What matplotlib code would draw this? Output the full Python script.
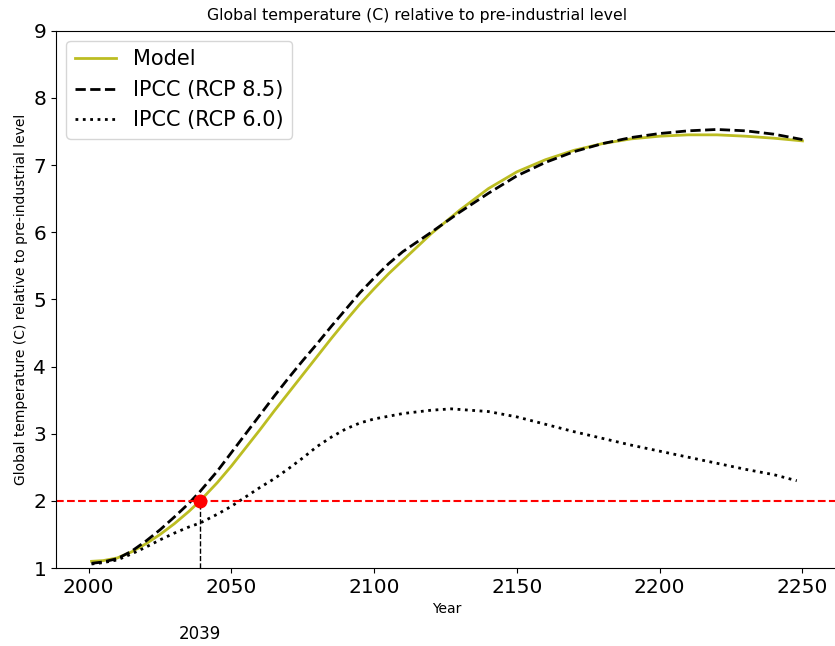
import numpy as np
import matplotlib
matplotlib.use("Agg")
import matplotlib.pyplot as plt
import matplotlib.transforms as mtransforms

# temperature series (C above pre-industrial)
years = [2001, 2005, 2010, 2015, 2020, 2025, 2030, 2035, 2039, 2045, 2050,
         2055, 2060, 2065, 2070, 2075, 2080, 2085, 2090, 2095, 2100,
         2105, 2110, 2120, 2130, 2140, 2150, 2160, 2170, 2180, 2190, 2200,
         2210, 2220, 2230, 2240, 2250]
model = [1.10, 1.11, 1.15, 1.24, 1.36, 1.50, 1.66, 1.84, 2.00, 2.27, 2.52,
         2.79, 3.06, 3.34, 3.61, 3.88, 4.15, 4.42, 4.68, 4.93, 5.16,
         5.38, 5.58, 5.98, 6.33, 6.65, 6.90, 7.08, 7.22, 7.32, 7.39, 7.43,
         7.45, 7.45, 7.43, 7.40, 7.36]
rcp85 = [1.07, 1.09, 1.14, 1.25, 1.40, 1.57, 1.76, 1.96, 2.14, 2.44, 2.72,
         3.00, 3.28, 3.56, 3.83, 4.09, 4.34, 4.60, 4.85, 5.10, 5.32,
         5.53, 5.71, 6.00, 6.30, 6.58, 6.84, 7.04, 7.20, 7.32, 7.41, 7.47,
         7.51, 7.53, 7.51, 7.46, 7.38]

years60 = [2001, 2005, 2010, 2015, 2020, 2025, 2030, 2035, 2039, 2045, 2050,
           2055, 2060, 2065, 2070, 2075, 2080, 2085, 2090, 2095, 2100,
           2110, 2120, 2127, 2140, 2150, 2160, 2170, 2180, 2190, 2200,
           2210, 2220, 2230, 2240, 2248]
rcp60 = [1.06, 1.08, 1.12, 1.21, 1.31, 1.42, 1.52, 1.61, 1.67, 1.80, 1.92,
         2.06, 2.20, 2.33, 2.48, 2.64, 2.81, 2.95, 3.07, 3.16, 3.22,
         3.30, 3.35, 3.37, 3.33, 3.25, 3.14, 3.03, 2.93, 2.83, 2.74,
         2.65, 2.56, 2.47, 2.39, 2.30]

threshold = 2.0
cross_year = 2039

fig = plt.figure(figsize=(8.35, 6.46), dpi=100)
ax = fig.add_axes([0.0671, 0.1207, 0.9365, 0.8317])

ax.plot(years, model, color="#bcbd22", lw=2, label="Model")
ax.plot(years, rcp85, color="black", lw=2, ls="--", label="IPCC (RCP 8.5)")
ax.plot(years60, rcp60, color="black", lw=2, ls=":", label="IPCC (RCP 6.0)")

ax.axhline(threshold, color="red", ls="--", lw=1.5)
ax.plot([cross_year, cross_year], [1, threshold], color="black", ls="--", lw=1)
ax.plot(cross_year, threshold, "o", color="red", ms=9)

ax.set_ylim(1, 9)
fig.suptitle("Global temperature (C) relative to pre-industrial level",
             fontsize=11.3, y=0.987)
ax.set_xlabel("Year", fontsize=10)
ax.set_ylabel("Global temperature (C) relative to pre-industrial level", fontsize=10)
ax.tick_params(labelsize=14.5)

trans = mtransforms.blended_transform_factory(ax.transData, ax.transAxes)
ax.text(cross_year, -0.122, str(cross_year), transform=trans, ha="center",
        va="center", fontsize=12)

ax.legend(loc="upper left", fontsize=15)

fig.savefig("out.png", dpi=100)
